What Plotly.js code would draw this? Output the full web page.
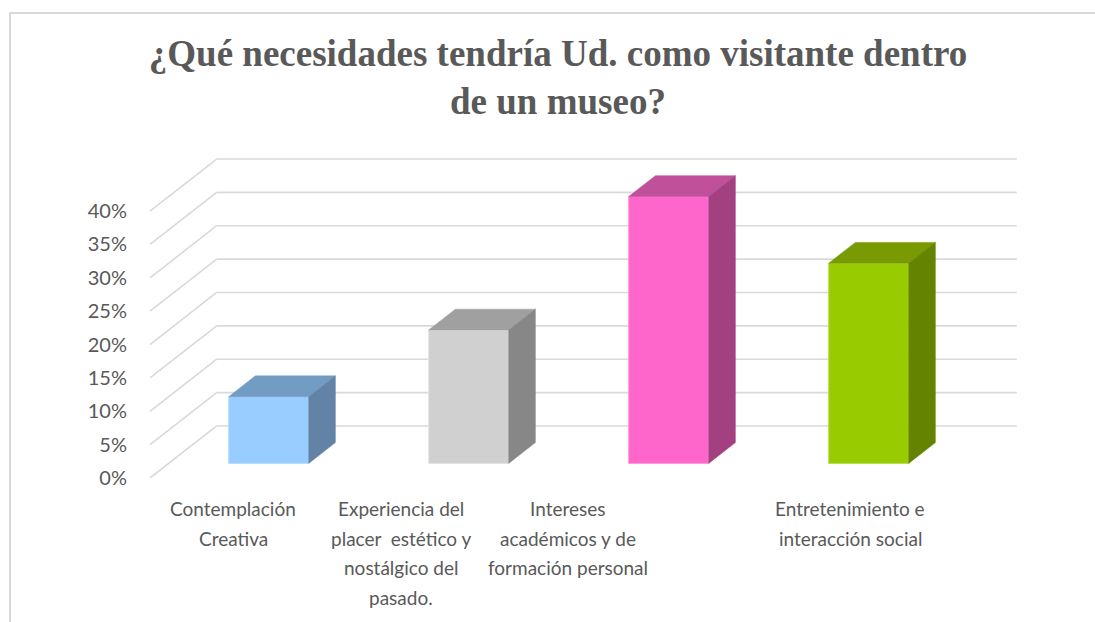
<!DOCTYPE html>
<html>
<head>
<meta charset="utf-8">
<script src="https://cdn.plot.ly/plotly-3.0.1.min.js"></script>
<style>
  html, body { margin: 0; padding: 0; background: #ffffff; }
  #wrap { position: relative; width: 1095px; height: 622px; }
  #chart { width: 1095px; height: 622px; }
  #frame { position: absolute; left: 9px; top: 12px; right: 0; bottom: 0;
           border-left: 2px solid #D9D9D9; border-top: 2px solid #D9D9D9; pointer-events: none; }
</style>
</head>
<body>
<div id="wrap">
  <div id="chart"></div>
  <div id="frame"></div>
</div>
<script>
// ---- data ----
const titleText = "¿Qué necesidades tendría Ud. como visitante dentro<br>de un museo?";
const categories = [
  "Contemplación<br>Creativa",
  "Experiencia del<br>placer  estético y<br>nostálgico del<br>pasado.",
  "Intereses<br>académicos y de<br>formación personal",
  "Entretenimiento e<br>interacción social"
];
const values = [10, 20, 40, 30];           // percent
const yTicks = [0, 5, 10, 15, 20, 25, 30, 35, 40];

// ---- style ----
const frontColors = ["#99CCFF", "#D0D0D0", "#FF66CC", "#99CC00"];
const topColors   = ["#739CC4", "#A0A0A0", "#C1509A", "#799A00"];
const sideColors  = ["#6282A6", "#878787", "#A3407F", "#648300"];
const edgeColors  = ["#B8DCFF", "#E2E2E2", "#FF99DD", "#B8DD55"];
const labelShift  = [-0.085, -0.245, -0.41, 0.0];   // label placement tweak (axis units)
const labelLineGap = 29.5;                          // px between label lines

// 3D projection parameters (axis units)
const D = 0.3335;   // horizontal depth offset of the back wall
const H = 7.8;      // vertical depth offset of the back wall (in % units)
const f0 = 0.28, f1 = 0.68;  // bar depth span (fraction of full depth)
const barW = 0.4;

const traces = [];
const idx = values.map((v, i) => i);

// front faces (bars)
traces.push({
  type: "bar",
  x: idx.map(i => i + f0 * D),
  y: values,
  base: values.map(() => f0 * H),
  width: barW,
  marker: { color: frontColors, line: { color: edgeColors, width: 1 } },
  hoverinfo: "skip",
  showlegend: false
});

const dd = (f1 - f0) * D, dh = (f1 - f0) * H;
values.forEach((v, i) => {
  const xl = i + f0 * D - barW / 2, xr = i + f0 * D + barW / 2;
  const b = f0 * H;
  // top face
  traces.push({
    type: "scatter", mode: "lines", fill: "toself",
    x: [xl, xr, xr + dd, xl + dd, xl],
    y: [v + b, v + b, v + b + dh, v + b + dh, v + b],
    fillcolor: topColors[i], line: { color: topColors[i], width: 0.5 },
    hoverinfo: "skip", showlegend: false
  });
  // side face
  traces.push({
    type: "scatter", mode: "lines", fill: "toself",
    x: [xr, xr, xr + dd, xr + dd, xr],
    y: [b, v + b, v + b + dh, b + dh, b],
    fillcolor: sideColors[i], line: { color: sideColors[i], width: 0.5 },
    hoverinfo: "skip", showlegend: false
  });
});

// gridlines: slanted side wall + back wall
const x0 = -0.5, x1 = values.length - 0.5;
const shapes = [];
yTicks.forEach(t => {
  shapes.push({ type: "line", xref: "x", yref: "y", layer: "below",
    x0: x0, y0: t, x1: x0 + D, y1: t + H, line: { color: "#D9D9D9", width: 1.6 } });
  shapes.push({ type: "line", xref: "x", yref: "y", layer: "below",
    x0: x0 + D, y0: t + H, x1: x1 + D, y1: t + H, line: { color: "#D9D9D9", width: 1.6 } });
});

// category labels (one annotation per text line to reproduce the wide line spacing)
const annotations = [];
categories.forEach((c, i) => {
  c.split("<br>").forEach((line, k) => {
    annotations.push({
      text: line, xref: "x", yref: "paper", x: i + labelShift[i], y: 0,
      yanchor: "top", xanchor: "center", yshift: -17 - k * labelLineGap,
      showarrow: false, align: "center",
      font: { family: "Lato, 'Open Sans', sans-serif", size: 19, color: "#595959" }
    });
  });
});

const layout = {
  width: 1095, height: 622,
  paper_bgcolor: "#ffffff", plot_bgcolor: "rgba(0,0,0,0)",
  margin: { l: 146, r: 73, t: 151.3, b: 144, pad: 0 },
  title: {
    text: titleText, x: 558 / 1095, xanchor: "center", xref: "container",
    y: 1 - 66 / 622, yref: "container", yanchor: "middle",
    font: { family: "'Liberation Serif', 'DejaVu Serif', serif", size: 37, color: "#595959", weight: 700 }
  },
  xaxis: { range: [-0.52, 3.86], showgrid: false, zeroline: false, showline: false,
           showticklabels: false, ticks: "", fixedrange: true },
  yaxis: { range: [0, 49], tickvals: yTicks, ticktext: yTicks.map(t => t + "%"),
           showgrid: false, zeroline: false, showline: false, ticks: "",
           ticklabelstandoff: 18,
           tickfont: { family: "Lato, 'Open Sans', sans-serif", size: 20, color: "#595959" },
           fixedrange: true },
  shapes: shapes,
  annotations: annotations,
  showlegend: false,
  bargap: 0
};

Plotly.newPlot("chart", traces, layout, { displayModeBar: false, staticPlot: true });
</script>
</body>
</html>
